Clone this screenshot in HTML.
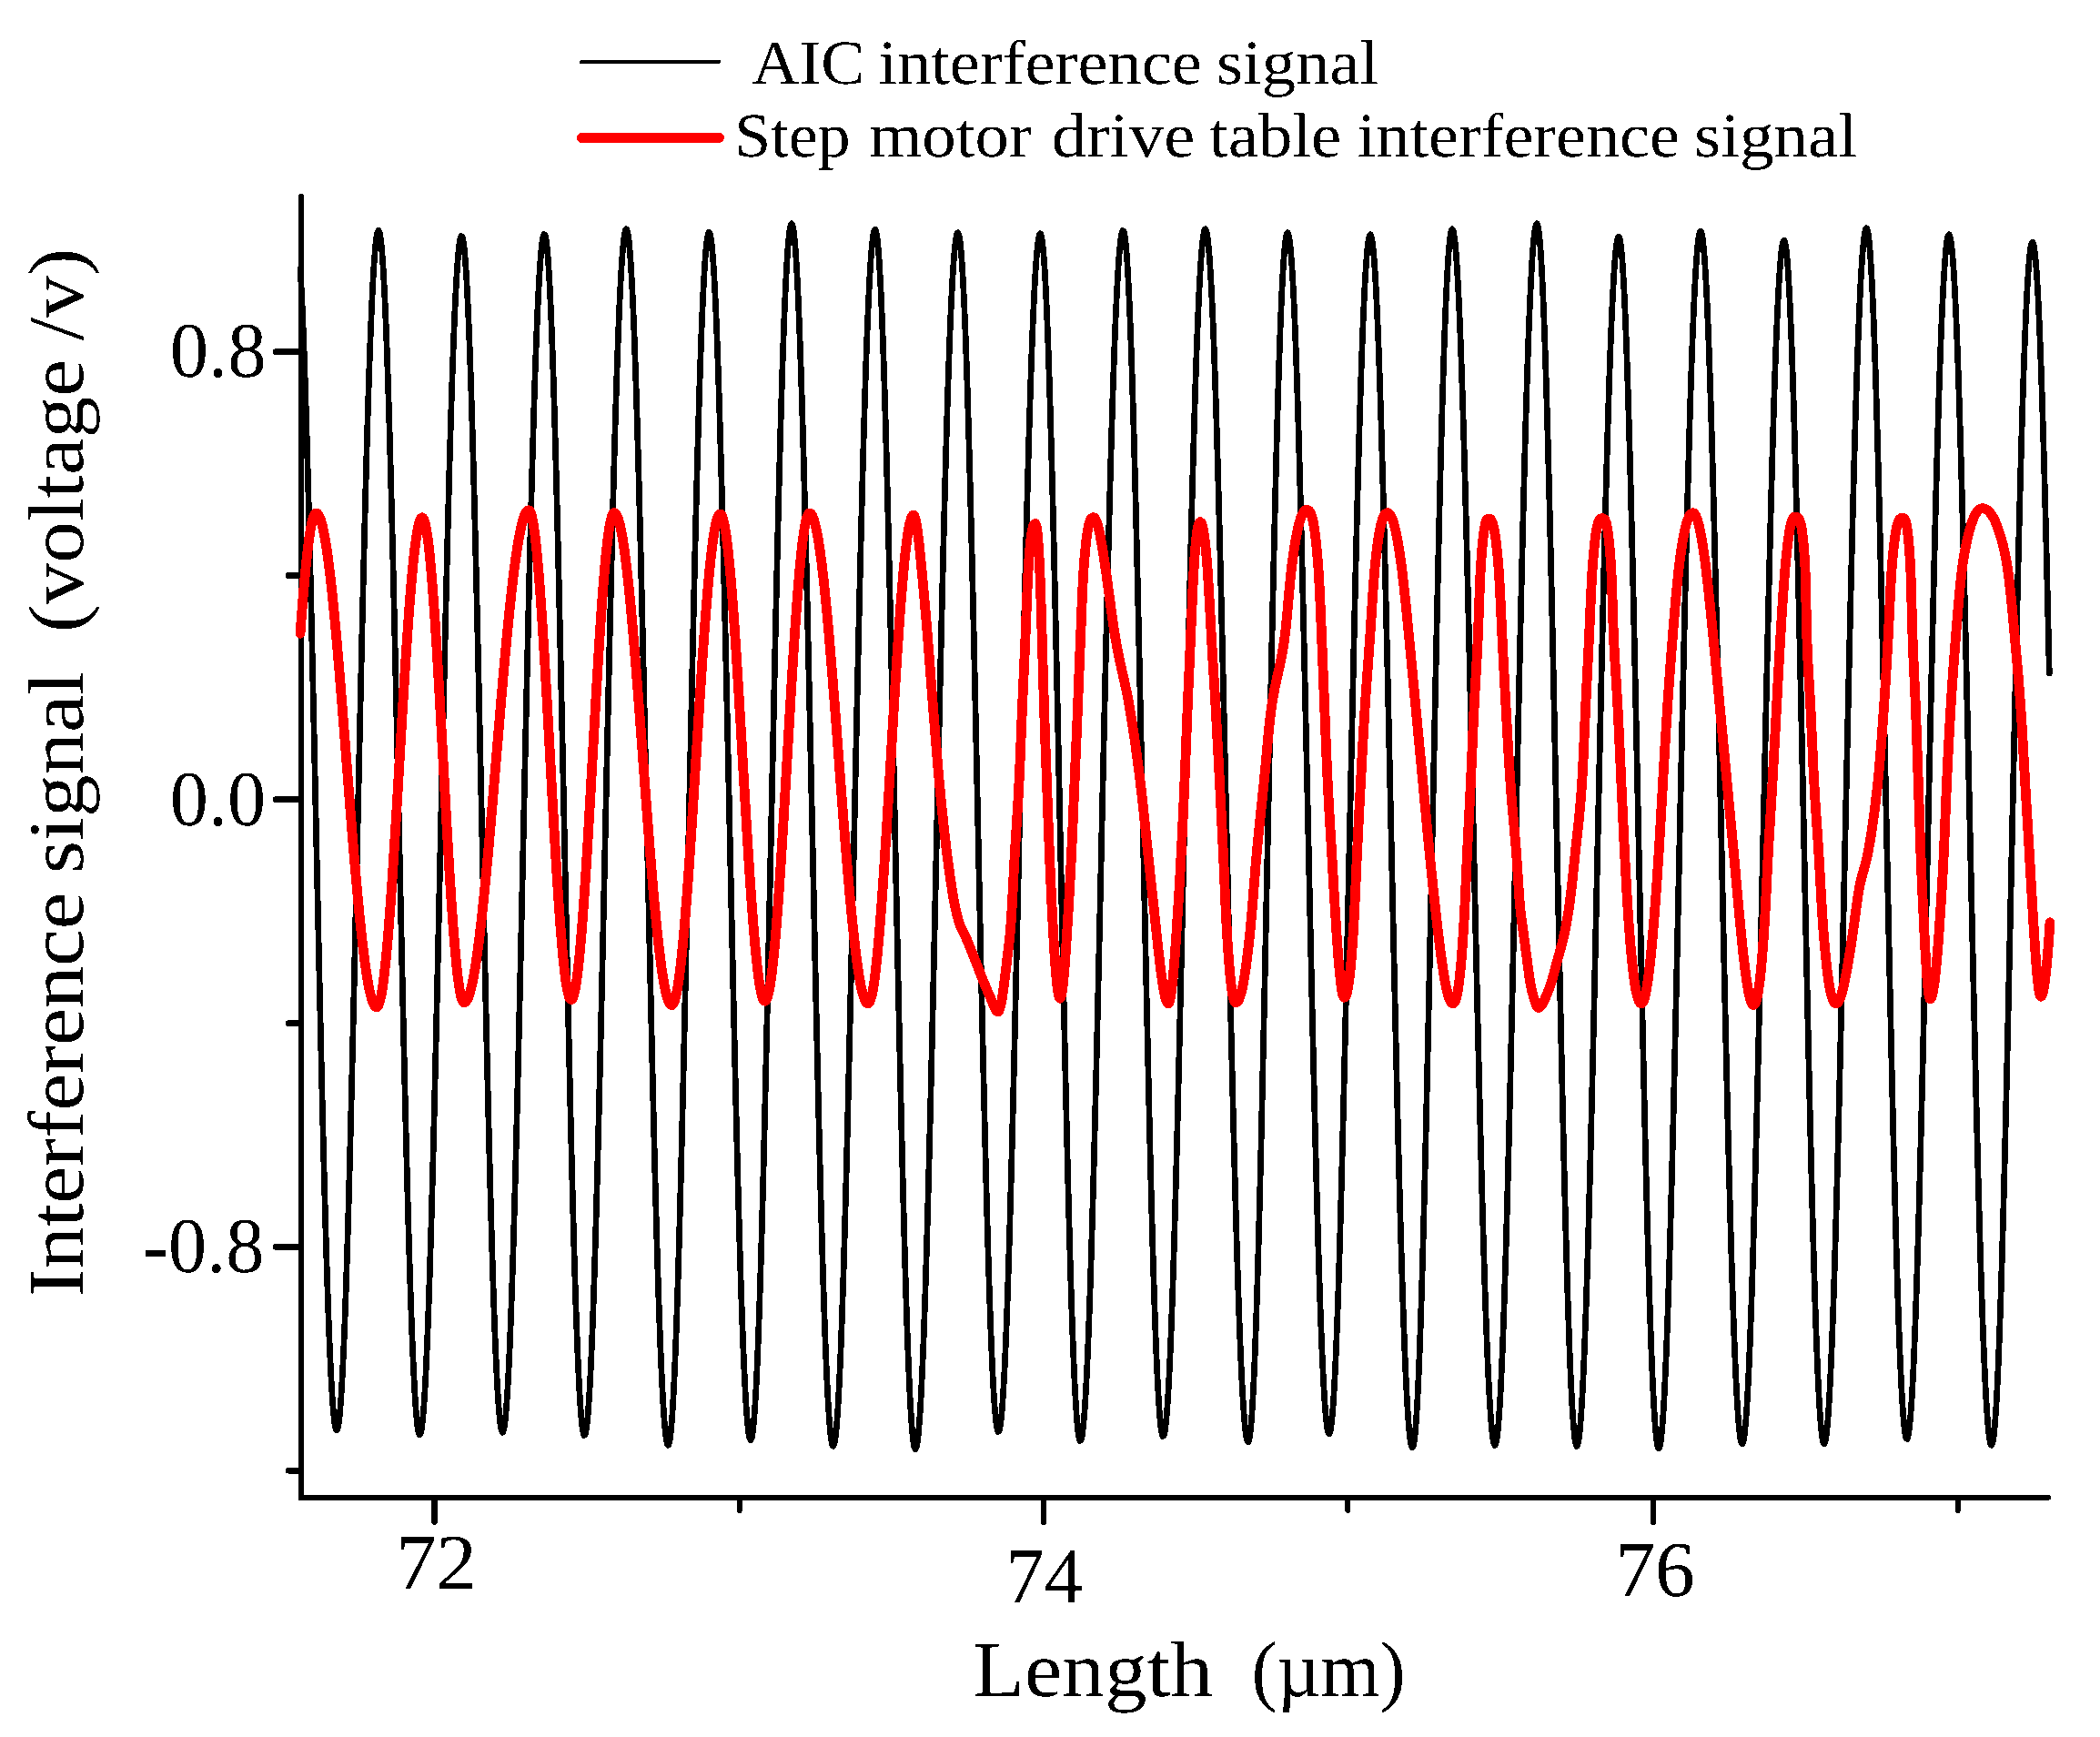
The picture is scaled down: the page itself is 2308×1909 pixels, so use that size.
<!DOCTYPE html>
<html lang="en">
<head>
<meta charset="utf-8">
<title>Interference signal vs length</title>
<style>html,body{margin:0;padding:0;background:#fff}svg{display:block}</style>
</head>
<body>
<svg width="2308" height="1909" viewBox="0 0 2308 1909" shape-rendering="crispEdges" text-rendering="geometricPrecision">
<rect width="2308" height="1909" fill="#fff"/>
<g stroke="#000" stroke-width="6" stroke-linecap="round" fill="none">
<path d="M331.2 216 V1645.8 H2251"/>
<path d="M303 386.7 H330.2" stroke-width="6.6"/>
<path d="M317 632.5 H330.2" stroke-width="6.6"/>
<path d="M303 878.7 H330.2" stroke-width="6.6"/>
<path d="M317 1124.6 H330.2" stroke-width="6.6"/>
<path d="M303 1370.4 H330.2" stroke-width="6.6"/>
<path d="M317 1616.2 H330.2" stroke-width="6.6"/>
<path d="M477.6 1646.8 V1672.5" stroke-width="6.8"/>
<path d="M812.7 1646.8 V1660" stroke-width="6"/>
<path d="M1147 1646.8 V1672.5" stroke-width="6.8"/>
<path d="M1481.4 1646.8 V1660" stroke-width="6"/>
<path d="M1817 1646.8 V1672.5" stroke-width="6.8"/>
<path d="M2151.7 1646.8 V1660" stroke-width="6"/>
</g>
<path d="M330.0 295.5L331.0 312.7L332.0 332.9L333.0 355.8L334.0 381.5L335.0 409.8L336.0 440.5L337.0 473.6L338.0 508.8L339.0 545.9L340.0 584.9L341.0 625.4L342.0 667.4L343.0 710.6L344.0 754.7L345.0 799.6L346.0 845.1L347.0 890.9L348.0 936.9L349.0 982.7L350.0 1028.2L351.0 1073.1L352.0 1117.2L353.0 1160.4L354.0 1202.4L355.0 1242.9L356.0 1281.9L357.0 1319.0L358.0 1354.2L359.0 1387.3L360.0 1418.0L361.0 1446.3L362.0 1472.0L363.0 1494.9L364.0 1515.1L365.0 1532.3L366.0 1546.5L367.0 1557.6L368.0 1565.5L369.0 1570.3L370.0 1572.0L371.0 1570.4L372.0 1565.8L373.0 1558.2L374.0 1547.5L375.0 1533.9L376.0 1517.4L377.0 1498.0L378.0 1476.0L379.0 1451.3L380.0 1424.1L381.0 1394.5L382.0 1362.7L383.0 1328.7L384.0 1292.9L385.0 1255.2L386.0 1216.0L387.0 1175.3L388.0 1133.4L389.0 1090.5L390.0 1046.8L391.0 1002.4L392.0 957.6L393.0 912.7L394.0 867.7L395.0 822.9L396.0 778.5L397.0 734.8L398.0 691.9L399.0 650.0L400.0 609.3L401.0 570.1L402.0 532.4L403.0 496.6L404.0 462.6L405.0 430.8L406.0 401.2L407.0 374.0L408.0 349.3L409.0 327.3L410.0 307.9L411.0 291.4L412.0 277.8L413.0 267.1L414.0 259.5L415.0 254.9L416.0 253.3L417.0 254.9L418.0 259.7L419.0 267.6L420.0 278.7L421.0 292.7L422.0 309.8L423.0 329.8L424.0 352.6L425.0 378.1L426.0 406.2L427.0 436.8L428.0 469.6L429.0 504.6L430.0 541.5L431.0 580.3L432.0 620.6L433.0 662.4L434.0 705.4L435.0 749.4L436.0 794.2L437.0 839.6L438.0 885.3L439.0 931.2L440.0 977.0L441.0 1022.5L442.0 1067.5L443.0 1111.8L444.0 1155.1L445.0 1197.3L446.0 1238.1L447.0 1277.3L448.0 1314.8L449.0 1350.4L450.0 1383.9L451.0 1415.2L452.0 1444.0L453.0 1470.3L454.0 1493.9L455.0 1514.8L456.0 1532.7L457.0 1547.7L458.0 1559.7L459.0 1568.5L460.0 1574.3L461.0 1576.8L462.0 1576.2L463.0 1572.5L464.0 1565.8L465.0 1556.0L466.0 1543.3L467.0 1527.7L468.0 1509.2L469.0 1487.9L470.0 1464.0L471.0 1437.6L472.0 1408.7L473.0 1377.6L474.0 1344.3L475.0 1309.0L476.0 1271.9L477.0 1233.2L478.0 1192.9L479.0 1151.4L480.0 1108.9L481.0 1065.4L482.0 1021.2L483.0 976.6L484.0 931.6L485.0 886.7L486.0 841.8L487.0 797.4L488.0 753.4L489.0 710.3L490.0 668.1L491.0 627.1L492.0 587.5L493.0 549.3L494.0 512.9L495.0 478.4L496.0 446.0L497.0 415.7L498.0 387.8L499.0 362.4L500.0 339.5L501.0 319.4L502.0 302.0L503.0 287.6L504.0 276.0L505.0 267.5L506.0 261.9L507.0 259.5L508.0 260.1L509.0 264.0L510.0 271.0L511.0 281.2L512.0 294.4L513.0 310.7L514.0 330.0L515.0 352.1L516.0 376.9L517.0 404.4L518.0 434.4L519.0 466.8L520.0 501.3L521.0 537.8L522.0 576.2L523.0 616.3L524.0 657.8L525.0 700.6L526.0 744.5L527.0 789.1L528.0 834.4L529.0 880.1L530.0 926.0L531.0 971.9L532.0 1017.4L533.0 1062.5L534.0 1106.9L535.0 1150.3L536.0 1192.6L537.0 1233.6L538.0 1273.0L539.0 1310.7L540.0 1346.5L541.0 1380.1L542.0 1411.6L543.0 1440.6L544.0 1467.0L545.0 1490.8L546.0 1511.8L547.0 1529.9L548.0 1544.9L549.0 1557.0L550.0 1565.9L551.0 1571.6L552.0 1574.2L553.0 1573.6L554.0 1569.9L555.0 1563.2L556.0 1553.4L557.0 1540.7L558.0 1525.1L559.0 1506.6L560.0 1485.4L561.0 1461.5L562.0 1435.1L563.0 1406.2L564.0 1375.1L565.0 1341.8L566.0 1306.5L567.0 1269.5L568.0 1230.7L569.0 1190.5L570.0 1149.0L571.0 1106.5L572.0 1063.0L573.0 1018.9L574.0 974.2L575.0 929.3L576.0 884.4L577.0 839.6L578.0 795.1L579.0 751.2L580.0 708.1L581.0 665.9L582.0 624.9L583.0 585.3L584.0 547.2L585.0 510.8L586.0 476.3L587.0 443.9L588.0 413.7L589.0 385.8L590.0 360.3L591.0 337.5L592.0 317.4L593.0 300.0L594.0 285.5L595.0 274.0L596.0 265.5L597.0 259.9L598.0 257.5L599.0 258.2L600.0 262.2L601.0 269.6L602.0 280.3L603.0 294.2L604.0 311.3L605.0 331.5L606.0 354.6L607.0 380.7L608.0 409.4L609.0 440.8L610.0 474.6L611.0 510.7L612.0 548.8L613.0 588.8L614.0 630.5L615.0 673.6L616.0 718.0L617.0 763.4L618.0 809.6L619.0 856.3L620.0 903.4L621.0 950.5L622.0 997.4L623.0 1044.0L624.0 1089.9L625.0 1134.9L626.0 1178.8L627.0 1221.4L628.0 1262.4L629.0 1301.7L630.0 1339.0L631.0 1374.2L632.0 1407.0L633.0 1437.4L634.0 1465.1L635.0 1490.0L636.0 1512.0L637.0 1530.9L638.0 1546.8L639.0 1559.4L640.0 1568.8L641.0 1574.8L642.0 1577.5L643.0 1576.9L644.0 1573.2L645.0 1566.4L646.0 1556.6L647.0 1543.8L648.0 1528.0L649.0 1509.4L650.0 1488.1L651.0 1464.0L652.0 1437.4L653.0 1408.4L654.0 1377.0L655.0 1343.5L656.0 1308.0L657.0 1270.7L658.0 1231.7L659.0 1191.2L660.0 1149.4L661.0 1106.6L662.0 1062.8L663.0 1018.4L664.0 973.4L665.0 928.2L666.0 883.0L667.0 837.8L668.0 793.1L669.0 748.9L670.0 705.5L671.0 663.0L672.0 621.8L673.0 581.8L674.0 543.5L675.0 506.9L676.0 472.1L677.0 439.5L678.0 409.0L679.0 380.9L680.0 355.3L681.0 332.4L682.0 312.1L683.0 294.6L684.0 280.0L685.0 268.4L686.0 259.8L687.0 254.3L688.0 251.8L689.0 252.4L690.0 256.1L691.0 263.0L692.0 272.9L693.0 285.8L694.0 301.7L695.0 320.4L696.0 342.0L697.0 366.2L698.0 393.0L699.0 422.3L700.0 453.9L701.0 487.7L702.0 523.5L703.0 561.1L704.0 600.4L705.0 641.2L706.0 683.3L707.0 726.5L708.0 770.6L709.0 815.4L710.0 860.7L711.0 906.3L712.0 951.9L713.0 997.4L714.0 1042.5L715.0 1087.1L716.0 1130.9L717.0 1173.7L718.0 1215.3L719.0 1255.5L720.0 1294.2L721.0 1331.1L722.0 1366.1L723.0 1399.0L724.0 1429.7L725.0 1458.0L726.0 1483.8L727.0 1507.0L728.0 1527.4L729.0 1545.0L730.0 1559.7L731.0 1571.4L732.0 1580.1L733.0 1585.7L734.0 1588.2L735.0 1587.6L736.0 1583.7L737.0 1576.5L738.0 1566.2L739.0 1552.8L740.0 1536.3L741.0 1516.8L742.0 1494.3L743.0 1469.1L744.0 1441.3L745.0 1410.9L746.0 1378.1L747.0 1343.1L748.0 1306.0L749.0 1267.1L750.0 1226.5L751.0 1184.4L752.0 1141.0L753.0 1096.6L754.0 1051.3L755.0 1005.4L756.0 959.1L757.0 912.5L758.0 866.1L759.0 819.9L760.0 774.2L761.0 729.2L762.0 685.2L763.0 642.3L764.0 600.8L765.0 560.8L766.0 522.6L767.0 486.3L768.0 452.2L769.0 420.4L770.0 391.0L771.0 364.1L772.0 340.0L773.0 318.8L774.0 300.5L775.0 285.2L776.0 273.0L777.0 263.9L778.0 258.1L779.0 255.5L780.0 256.1L781.0 259.9L782.0 266.7L783.0 276.7L784.0 289.7L785.0 305.6L786.0 324.5L787.0 346.2L788.0 370.5L789.0 397.5L790.0 426.9L791.0 458.7L792.0 492.6L793.0 528.5L794.0 566.3L795.0 605.8L796.0 646.7L797.0 688.9L798.0 732.2L799.0 776.4L800.0 821.3L801.0 866.6L802.0 912.2L803.0 957.8L804.0 1003.2L805.0 1048.2L806.0 1092.6L807.0 1136.2L808.0 1178.8L809.0 1220.1L810.0 1260.0L811.0 1298.3L812.0 1334.8L813.0 1369.4L814.0 1401.8L815.0 1431.9L816.0 1459.6L817.0 1484.8L818.0 1507.3L819.0 1527.0L820.0 1543.8L821.0 1557.7L822.0 1568.6L823.0 1576.4L824.0 1581.1L825.0 1582.7L826.0 1581.0L827.0 1576.1L828.0 1568.0L829.0 1556.8L830.0 1542.3L831.0 1524.9L832.0 1504.4L833.0 1481.1L834.0 1455.0L835.0 1426.3L836.0 1395.0L837.0 1361.5L838.0 1325.7L839.0 1288.0L840.0 1248.4L841.0 1207.2L842.0 1164.6L843.0 1120.7L844.0 1075.9L845.0 1030.2L846.0 984.0L847.0 937.5L848.0 890.8L849.0 844.3L850.0 798.1L851.0 752.4L852.0 707.6L853.0 663.7L854.0 621.1L855.0 579.9L856.0 540.3L857.0 502.6L858.0 466.8L859.0 433.3L860.0 402.0L861.0 373.3L862.0 347.2L863.0 323.9L864.0 303.4L865.0 286.0L866.0 271.5L867.0 260.3L868.0 252.2L869.0 247.3L870.0 245.7L871.0 247.2L872.0 252.0L873.0 259.9L874.0 270.9L875.0 284.9L876.0 302.0L877.0 321.9L878.0 344.7L879.0 370.2L880.0 398.2L881.0 428.8L882.0 461.6L883.0 496.5L884.0 533.5L885.0 572.3L886.0 612.7L887.0 654.5L888.0 697.6L889.0 741.8L890.0 786.7L891.0 832.3L892.0 878.3L893.0 924.4L894.0 970.6L895.0 1016.4L896.0 1061.9L897.0 1106.6L898.0 1150.4L899.0 1193.2L900.0 1234.6L901.0 1274.5L902.0 1312.8L903.0 1349.2L904.0 1383.5L905.0 1415.6L906.0 1445.4L907.0 1472.7L908.0 1497.4L909.0 1519.3L910.0 1538.4L911.0 1554.6L912.0 1567.7L913.0 1577.8L914.0 1584.8L915.0 1588.6L916.0 1589.2L917.0 1586.7L918.0 1581.1L919.0 1572.4L920.0 1560.7L921.0 1546.0L922.0 1528.4L923.0 1508.0L924.0 1484.8L925.0 1459.0L926.0 1430.6L927.0 1399.9L928.0 1367.0L929.0 1332.0L930.0 1295.0L931.0 1256.3L932.0 1216.1L933.0 1174.5L934.0 1131.7L935.0 1087.9L936.0 1043.3L937.0 998.2L938.0 952.7L939.0 907.0L940.0 861.4L941.0 816.1L942.0 771.3L943.0 727.1L944.0 683.9L945.0 641.8L946.0 601.0L947.0 561.6L948.0 524.0L949.0 488.2L950.0 454.4L951.0 422.8L952.0 393.5L953.0 366.6L954.0 342.4L955.0 320.8L956.0 302.1L957.0 286.2L958.0 273.3L959.0 263.4L960.0 256.6L961.0 252.8L962.0 252.2L963.0 254.9L964.0 260.9L965.0 270.3L966.0 283.0L967.0 298.8L968.0 317.8L969.0 339.9L970.0 364.9L971.0 392.6L972.0 423.1L973.0 456.0L974.0 491.3L975.0 528.7L976.0 568.2L977.0 609.4L978.0 652.2L979.0 696.3L980.0 741.6L981.0 787.8L982.0 834.7L983.0 882.0L984.0 929.5L985.0 977.0L986.0 1024.2L987.0 1070.8L988.0 1116.8L989.0 1161.8L990.0 1205.5L991.0 1247.8L992.0 1288.6L993.0 1327.4L994.0 1364.2L995.0 1398.8L996.0 1431.0L997.0 1460.7L998.0 1487.6L999.0 1511.7L1000.0 1532.9L1001.0 1551.0L1002.0 1565.9L1003.0 1577.5L1004.0 1585.9L1005.0 1591.0L1006.0 1592.7L1007.0 1591.1L1008.0 1586.6L1009.0 1579.1L1010.0 1568.6L1011.0 1555.2L1012.0 1538.9L1013.0 1519.9L1014.0 1498.2L1015.0 1473.8L1016.0 1447.0L1017.0 1417.8L1018.0 1386.4L1019.0 1352.9L1020.0 1317.4L1021.0 1280.2L1022.0 1241.4L1023.0 1201.1L1024.0 1159.6L1025.0 1117.0L1026.0 1073.5L1027.0 1029.4L1028.0 984.8L1029.0 939.9L1030.0 894.9L1031.0 850.1L1032.0 805.6L1033.0 761.6L1034.0 718.4L1035.0 676.1L1036.0 635.0L1037.0 595.1L1038.0 556.7L1039.0 520.0L1040.0 485.1L1041.0 452.2L1042.0 421.5L1043.0 393.0L1044.0 366.9L1045.0 343.3L1046.0 322.4L1047.0 304.2L1048.0 288.8L1049.0 276.3L1050.0 266.6L1051.0 260.0L1052.0 256.4L1053.0 255.8L1054.0 258.4L1055.0 264.3L1056.0 273.4L1057.0 285.6L1058.0 301.0L1059.0 319.5L1060.0 340.9L1061.0 365.1L1062.0 392.1L1063.0 421.6L1064.0 453.6L1065.0 487.9L1066.0 524.3L1067.0 562.6L1068.0 602.7L1069.0 644.4L1070.0 687.3L1071.0 731.4L1072.0 776.4L1073.0 822.1L1074.0 868.3L1075.0 914.6L1076.0 961.0L1077.0 1007.2L1078.0 1052.9L1079.0 1097.9L1080.0 1142.0L1081.0 1184.9L1082.0 1226.6L1083.0 1266.7L1084.0 1305.0L1085.0 1341.4L1086.0 1375.7L1087.0 1407.7L1088.0 1437.2L1089.0 1464.2L1090.0 1488.4L1091.0 1509.8L1092.0 1528.3L1093.0 1543.7L1094.0 1555.9L1095.0 1565.0L1096.0 1570.9L1097.0 1573.5L1098.0 1572.9L1099.0 1569.2L1100.0 1562.5L1101.0 1552.7L1102.0 1540.0L1103.0 1524.4L1104.0 1505.9L1105.0 1484.7L1106.0 1460.8L1107.0 1434.4L1108.0 1405.5L1109.0 1374.4L1110.0 1341.1L1111.0 1305.8L1112.0 1268.8L1113.0 1230.0L1114.0 1189.8L1115.0 1148.3L1116.0 1105.8L1117.0 1062.3L1118.0 1018.2L1119.0 973.5L1120.0 928.6L1121.0 883.7L1122.0 838.9L1123.0 794.4L1124.0 750.5L1125.0 707.4L1126.0 665.2L1127.0 624.2L1128.0 584.6L1129.0 546.5L1130.0 510.1L1131.0 475.6L1132.0 443.2L1133.0 413.0L1134.0 385.1L1135.0 359.6L1136.0 336.8L1137.0 316.7L1138.0 299.3L1139.0 284.8L1140.0 273.3L1141.0 264.8L1142.0 259.2L1143.0 256.8L1144.0 257.5L1145.0 261.5L1146.0 268.9L1147.0 279.7L1148.0 293.7L1149.0 310.8L1150.0 331.1L1151.0 354.4L1152.0 380.6L1153.0 409.5L1154.0 441.0L1155.0 475.0L1156.0 511.2L1157.0 549.6L1158.0 589.8L1159.0 631.7L1160.0 675.0L1161.0 719.6L1162.0 765.3L1163.0 811.7L1164.0 858.7L1165.0 905.9L1166.0 953.3L1167.0 1000.5L1168.0 1047.3L1169.0 1093.4L1170.0 1138.7L1171.0 1182.8L1172.0 1225.6L1173.0 1266.8L1174.0 1306.3L1175.0 1343.8L1176.0 1379.2L1177.0 1412.2L1178.0 1442.7L1179.0 1470.5L1180.0 1495.5L1181.0 1517.6L1182.0 1536.7L1183.0 1552.6L1184.0 1565.3L1185.0 1574.7L1186.0 1580.8L1187.0 1583.5L1188.0 1582.9L1189.0 1579.4L1190.0 1572.8L1191.0 1563.4L1192.0 1551.1L1193.0 1536.0L1194.0 1518.1L1195.0 1497.5L1196.0 1474.3L1197.0 1448.7L1198.0 1420.7L1199.0 1390.4L1200.0 1358.0L1201.0 1323.7L1202.0 1287.6L1203.0 1249.8L1204.0 1210.5L1205.0 1170.0L1206.0 1128.3L1207.0 1085.6L1208.0 1042.3L1209.0 998.3L1210.0 954.1L1211.0 909.6L1212.0 865.2L1213.0 821.0L1214.0 777.3L1215.0 734.2L1216.0 691.9L1217.0 650.7L1218.0 610.6L1219.0 571.9L1220.0 534.8L1221.0 499.3L1222.0 465.8L1223.0 434.2L1224.0 404.9L1225.0 377.8L1226.0 353.1L1227.0 331.0L1228.0 311.5L1229.0 294.7L1230.0 280.6L1231.0 269.5L1232.0 261.2L1233.0 255.9L1234.0 253.5L1235.0 254.2L1236.0 258.2L1237.0 265.6L1238.0 276.3L1239.0 290.3L1240.0 307.5L1241.0 327.7L1242.0 351.0L1243.0 377.1L1244.0 406.0L1245.0 437.5L1246.0 471.4L1247.0 507.6L1248.0 545.9L1249.0 586.0L1250.0 627.9L1251.0 671.2L1252.0 715.7L1253.0 761.3L1254.0 807.7L1255.0 854.6L1256.0 901.8L1257.0 949.1L1258.0 996.2L1259.0 1043.0L1260.0 1089.0L1261.0 1134.2L1262.0 1178.3L1263.0 1221.0L1264.0 1262.2L1265.0 1301.7L1266.0 1339.1L1267.0 1374.4L1268.0 1407.4L1269.0 1437.9L1270.0 1465.7L1271.0 1490.7L1272.0 1512.7L1273.0 1531.8L1274.0 1547.7L1275.0 1560.3L1276.0 1569.7L1277.0 1575.8L1278.0 1578.5L1279.0 1577.9L1280.0 1574.3L1281.0 1567.6L1282.0 1557.9L1283.0 1545.3L1284.0 1529.8L1285.0 1511.5L1286.0 1490.5L1287.0 1466.8L1288.0 1440.6L1289.0 1412.0L1290.0 1381.1L1291.0 1348.1L1292.0 1313.1L1293.0 1276.3L1294.0 1237.8L1295.0 1197.8L1296.0 1156.6L1297.0 1114.2L1298.0 1070.9L1299.0 1026.9L1300.0 982.4L1301.0 937.6L1302.0 892.7L1303.0 847.9L1304.0 803.4L1305.0 759.4L1306.0 716.1L1307.0 673.7L1308.0 632.5L1309.0 592.5L1310.0 554.0L1311.0 517.2L1312.0 482.2L1313.0 449.2L1314.0 418.3L1315.0 389.7L1316.0 363.5L1317.0 339.8L1318.0 318.8L1319.0 300.5L1320.0 285.0L1321.0 272.4L1322.0 262.7L1323.0 256.0L1324.0 252.4L1325.0 251.8L1326.0 254.2L1327.0 259.5L1328.0 267.8L1329.0 279.0L1330.0 293.0L1331.0 309.9L1332.0 329.5L1333.0 351.6L1334.0 376.4L1335.0 403.5L1336.0 432.9L1337.0 464.6L1338.0 498.2L1339.0 533.7L1340.0 570.9L1341.0 609.7L1342.0 649.9L1343.0 691.2L1344.0 733.6L1345.0 776.8L1346.0 820.6L1347.0 864.9L1348.0 909.4L1349.0 953.9L1350.0 998.3L1351.0 1042.3L1352.0 1085.8L1353.0 1128.5L1354.0 1170.3L1355.0 1211.0L1356.0 1250.3L1357.0 1288.2L1358.0 1324.4L1359.0 1358.8L1360.0 1391.3L1361.0 1421.6L1362.0 1449.7L1363.0 1475.4L1364.0 1498.6L1365.0 1519.2L1366.0 1537.1L1367.0 1552.3L1368.0 1564.7L1369.0 1574.1L1370.0 1580.7L1371.0 1584.2L1372.0 1584.8L1373.0 1582.0L1374.0 1575.7L1375.0 1566.0L1376.0 1552.9L1377.0 1536.4L1378.0 1516.7L1379.0 1493.9L1380.0 1468.0L1381.0 1439.3L1382.0 1407.8L1383.0 1373.8L1384.0 1337.4L1385.0 1298.8L1386.0 1258.2L1387.0 1215.8L1388.0 1171.9L1389.0 1126.6L1390.0 1080.3L1391.0 1033.1L1392.0 985.3L1393.0 937.2L1394.0 889.0L1395.0 840.9L1396.0 793.3L1397.0 746.3L1398.0 700.3L1399.0 655.4L1400.0 611.9L1401.0 570.0L1402.0 530.0L1403.0 492.0L1404.0 456.3L1405.0 423.0L1406.0 392.4L1407.0 364.5L1408.0 339.5L1409.0 317.6L1410.0 298.9L1411.0 283.4L1412.0 271.3L1413.0 262.6L1414.0 257.4L1415.0 255.7L1416.0 257.2L1417.0 261.9L1418.0 269.6L1419.0 280.5L1420.0 294.3L1421.0 311.0L1422.0 330.6L1423.0 353.0L1424.0 378.0L1425.0 405.6L1426.0 435.6L1427.0 467.8L1428.0 502.2L1429.0 538.5L1430.0 576.6L1431.0 616.3L1432.0 657.4L1433.0 699.8L1434.0 743.1L1435.0 787.3L1436.0 832.1L1437.0 877.2L1438.0 922.6L1439.0 967.9L1440.0 1013.0L1441.0 1057.6L1442.0 1101.6L1443.0 1144.7L1444.0 1186.7L1445.0 1227.4L1446.0 1266.6L1447.0 1304.2L1448.0 1339.9L1449.0 1373.7L1450.0 1405.3L1451.0 1434.5L1452.0 1461.4L1453.0 1485.6L1454.0 1507.2L1455.0 1525.9L1456.0 1541.8L1457.0 1554.7L1458.0 1564.6L1459.0 1571.4L1460.0 1575.2L1461.0 1575.8L1462.0 1573.3L1463.0 1567.6L1464.0 1558.8L1465.0 1546.9L1466.0 1531.9L1467.0 1514.0L1468.0 1493.3L1469.0 1469.7L1470.0 1443.5L1471.0 1414.8L1472.0 1383.7L1473.0 1350.3L1474.0 1314.9L1475.0 1277.5L1476.0 1238.4L1477.0 1197.8L1478.0 1155.8L1479.0 1112.6L1480.0 1068.6L1481.0 1023.7L1482.0 978.4L1483.0 932.8L1484.0 887.1L1485.0 841.5L1486.0 796.3L1487.0 751.7L1488.0 707.9L1489.0 665.1L1490.0 623.5L1491.0 583.3L1492.0 544.7L1493.0 507.9L1494.0 473.0L1495.0 440.3L1496.0 409.9L1497.0 381.9L1498.0 356.5L1499.0 333.8L1500.0 313.9L1501.0 296.9L1502.0 282.8L1503.0 271.9L1504.0 264.0L1505.0 259.2L1506.0 257.7L1507.0 259.2L1508.0 263.8L1509.0 271.4L1510.0 282.1L1511.0 295.6L1512.0 312.1L1513.0 331.4L1514.0 353.5L1515.0 378.1L1516.0 405.3L1517.0 434.9L1518.0 466.7L1519.0 500.6L1520.0 536.5L1521.0 574.1L1522.0 613.4L1523.0 654.1L1524.0 696.1L1525.0 739.0L1526.0 782.9L1527.0 827.4L1528.0 872.3L1529.0 917.5L1530.0 962.7L1531.0 1007.8L1532.0 1052.4L1533.0 1096.5L1534.0 1139.7L1535.0 1182.0L1536.0 1223.1L1537.0 1262.8L1538.0 1301.0L1539.0 1337.4L1540.0 1371.9L1541.0 1404.4L1542.0 1434.7L1543.0 1462.6L1544.0 1488.0L1545.0 1510.8L1546.0 1531.0L1547.0 1548.3L1548.0 1562.8L1549.0 1574.3L1550.0 1582.8L1551.0 1588.4L1552.0 1590.8L1553.0 1590.1L1554.0 1586.0L1555.0 1578.4L1556.0 1567.4L1557.0 1553.1L1558.0 1535.5L1559.0 1514.8L1560.0 1490.9L1561.0 1464.2L1562.0 1434.6L1563.0 1402.4L1564.0 1367.7L1565.0 1330.7L1566.0 1291.6L1567.0 1250.6L1568.0 1207.8L1569.0 1163.6L1570.0 1118.1L1571.0 1071.7L1572.0 1024.4L1573.0 976.6L1574.0 928.5L1575.0 880.4L1576.0 832.5L1577.0 785.1L1578.0 738.3L1579.0 692.5L1580.0 647.9L1581.0 604.7L1582.0 563.1L1583.0 523.4L1584.0 485.8L1585.0 450.3L1586.0 417.4L1587.0 387.0L1588.0 359.4L1589.0 334.7L1590.0 313.0L1591.0 294.4L1592.0 279.1L1593.0 267.2L1594.0 258.6L1595.0 253.4L1596.0 251.7L1597.0 253.1L1598.0 257.6L1599.0 265.0L1600.0 275.4L1601.0 288.6L1602.0 304.7L1603.0 323.5L1604.0 345.0L1605.0 369.0L1606.0 395.5L1607.0 424.3L1608.0 455.4L1609.0 488.5L1610.0 523.5L1611.0 560.4L1612.0 598.8L1613.0 638.7L1614.0 679.8L1615.0 722.0L1616.0 765.1L1617.0 808.8L1618.0 853.1L1619.0 897.7L1620.0 942.3L1621.0 986.9L1622.0 1031.2L1623.0 1074.9L1624.0 1118.0L1625.0 1160.2L1626.0 1201.3L1627.0 1241.2L1628.0 1279.6L1629.0 1316.5L1630.0 1351.5L1631.0 1384.6L1632.0 1415.7L1633.0 1444.5L1634.0 1471.0L1635.0 1495.0L1636.0 1516.5L1637.0 1535.3L1638.0 1551.4L1639.0 1564.6L1640.0 1575.0L1641.0 1582.4L1642.0 1586.9L1643.0 1588.4L1644.0 1586.8L1645.0 1582.1L1646.0 1574.3L1647.0 1563.5L1648.0 1549.6L1649.0 1532.8L1650.0 1513.1L1651.0 1490.6L1652.0 1465.5L1653.0 1437.8L1654.0 1407.6L1655.0 1375.2L1656.0 1340.7L1657.0 1304.2L1658.0 1265.8L1659.0 1225.9L1660.0 1184.5L1661.0 1141.8L1662.0 1098.1L1663.0 1053.6L1664.0 1008.4L1665.0 962.8L1666.0 917.0L1667.0 871.2L1668.0 825.6L1669.0 780.4L1670.0 735.9L1671.0 692.2L1672.0 649.5L1673.0 608.1L1674.0 568.2L1675.0 529.8L1676.0 493.3L1677.0 458.8L1678.0 426.4L1679.0 396.2L1680.0 368.5L1681.0 343.4L1682.0 320.9L1683.0 301.2L1684.0 284.4L1685.0 270.5L1686.0 259.7L1687.0 251.9L1688.0 247.2L1689.0 245.7L1690.0 247.4L1691.0 252.5L1692.0 261.0L1693.0 272.9L1694.0 288.0L1695.0 306.4L1696.0 327.8L1697.0 352.3L1698.0 379.7L1699.0 409.7L1700.0 442.4L1701.0 477.5L1702.0 514.9L1703.0 554.3L1704.0 595.5L1705.0 638.4L1706.0 682.7L1707.0 728.2L1708.0 774.7L1709.0 821.9L1710.0 869.6L1711.0 917.5L1712.0 965.4L1713.0 1013.1L1714.0 1060.3L1715.0 1106.8L1716.0 1152.3L1717.0 1196.6L1718.0 1239.5L1719.0 1280.7L1720.0 1320.1L1721.0 1357.5L1722.0 1392.6L1723.0 1425.3L1724.0 1455.3L1725.0 1482.7L1726.0 1507.2L1727.0 1528.6L1728.0 1547.0L1729.0 1562.1L1730.0 1574.0L1731.0 1582.5L1732.0 1587.6L1733.0 1589.4L1734.0 1587.8L1735.0 1583.2L1736.0 1575.4L1737.0 1564.7L1738.0 1551.0L1739.0 1534.3L1740.0 1514.8L1741.0 1492.6L1742.0 1467.7L1743.0 1440.3L1744.0 1410.5L1745.0 1378.4L1746.0 1344.2L1747.0 1308.0L1748.0 1270.0L1749.0 1230.5L1750.0 1189.5L1751.0 1147.3L1752.0 1104.0L1753.0 1059.9L1754.0 1015.2L1755.0 970.1L1756.0 924.7L1757.0 879.3L1758.0 834.2L1759.0 789.5L1760.0 745.4L1761.0 702.1L1762.0 659.9L1763.0 618.9L1764.0 579.4L1765.0 541.4L1766.0 505.2L1767.0 471.0L1768.0 438.9L1769.0 409.1L1770.0 381.7L1771.0 356.8L1772.0 334.6L1773.0 315.1L1774.0 298.4L1775.0 284.7L1776.0 274.0L1777.0 266.2L1778.0 261.6L1779.0 260.0L1780.0 261.7L1781.0 266.8L1782.0 275.3L1783.0 287.0L1784.0 302.0L1785.0 320.2L1786.0 341.5L1787.0 365.8L1788.0 392.9L1789.0 422.7L1790.0 455.1L1791.0 489.9L1792.0 526.9L1793.0 566.0L1794.0 606.8L1795.0 649.4L1796.0 693.3L1797.0 738.4L1798.0 784.4L1799.0 831.2L1800.0 878.5L1801.0 926.0L1802.0 973.5L1803.0 1020.8L1804.0 1067.6L1805.0 1113.6L1806.0 1158.7L1807.0 1202.6L1808.0 1245.2L1809.0 1286.0L1810.0 1325.1L1811.0 1362.1L1812.0 1396.9L1813.0 1429.3L1814.0 1459.1L1815.0 1486.2L1816.0 1510.5L1817.0 1531.8L1818.0 1550.0L1819.0 1565.0L1820.0 1576.7L1821.0 1585.2L1822.0 1590.3L1823.0 1592.0L1824.0 1590.4L1825.0 1585.7L1826.0 1578.0L1827.0 1567.1L1828.0 1553.3L1829.0 1536.6L1830.0 1517.0L1831.0 1494.6L1832.0 1469.5L1833.0 1441.9L1834.0 1411.9L1835.0 1379.6L1836.0 1345.2L1837.0 1308.8L1838.0 1270.6L1839.0 1230.8L1840.0 1189.5L1841.0 1147.0L1842.0 1103.5L1843.0 1059.1L1844.0 1014.1L1845.0 968.7L1846.0 923.0L1847.0 877.3L1848.0 831.9L1849.0 786.9L1850.0 742.5L1851.0 699.0L1852.0 656.5L1853.0 615.2L1854.0 575.4L1855.0 537.2L1856.0 500.8L1857.0 466.4L1858.0 434.1L1859.0 404.1L1860.0 376.5L1861.0 351.4L1862.0 329.0L1863.0 309.4L1864.0 292.7L1865.0 278.9L1866.0 268.0L1867.0 260.3L1868.0 255.6L1869.0 254.0L1870.0 255.6L1871.0 260.3L1872.0 268.2L1873.0 279.1L1874.0 293.0L1875.0 309.9L1876.0 329.7L1877.0 352.3L1878.0 377.6L1879.0 405.4L1880.0 435.7L1881.0 468.2L1882.0 502.9L1883.0 539.6L1884.0 578.1L1885.0 618.1L1886.0 659.7L1887.0 702.4L1888.0 746.2L1889.0 790.8L1890.0 836.0L1891.0 881.6L1892.0 927.4L1893.0 973.1L1894.0 1018.6L1895.0 1063.7L1896.0 1108.1L1897.0 1151.5L1898.0 1193.9L1899.0 1235.0L1900.0 1274.7L1901.0 1312.6L1902.0 1348.7L1903.0 1382.8L1904.0 1414.6L1905.0 1444.2L1906.0 1471.3L1907.0 1495.7L1908.0 1517.5L1909.0 1536.4L1910.0 1552.5L1911.0 1565.5L1912.0 1575.5L1913.0 1582.4L1914.0 1586.2L1915.0 1586.8L1916.0 1584.3L1917.0 1578.8L1918.0 1570.2L1919.0 1558.6L1920.0 1544.1L1921.0 1526.7L1922.0 1506.4L1923.0 1483.5L1924.0 1458.0L1925.0 1429.9L1926.0 1399.6L1927.0 1367.0L1928.0 1332.3L1929.0 1295.8L1930.0 1257.5L1931.0 1217.7L1932.0 1176.5L1933.0 1134.2L1934.0 1090.9L1935.0 1046.8L1936.0 1002.1L1937.0 957.1L1938.0 911.9L1939.0 866.9L1940.0 822.0L1941.0 777.7L1942.0 734.0L1943.0 691.3L1944.0 649.6L1945.0 609.2L1946.0 570.3L1947.0 533.1L1948.0 497.6L1949.0 464.2L1950.0 432.9L1951.0 404.0L1952.0 377.4L1953.0 353.4L1954.0 332.1L1955.0 313.5L1956.0 297.8L1957.0 285.1L1958.0 275.3L1959.0 268.5L1960.0 264.8L1961.0 264.2L1962.0 266.9L1963.0 272.9L1964.0 282.3L1965.0 295.0L1966.0 310.8L1967.0 329.8L1968.0 351.9L1969.0 376.8L1970.0 404.6L1971.0 435.0L1972.0 467.9L1973.0 503.1L1974.0 540.5L1975.0 579.9L1976.0 621.0L1977.0 663.7L1978.0 707.7L1979.0 752.8L1980.0 798.8L1981.0 845.4L1982.0 892.5L1983.0 939.7L1984.0 986.8L1985.0 1033.6L1986.0 1079.9L1987.0 1125.4L1988.0 1169.9L1989.0 1213.1L1990.0 1254.9L1991.0 1294.9L1992.0 1333.1L1993.0 1369.3L1994.0 1403.1L1995.0 1434.6L1996.0 1463.4L1997.0 1489.5L1998.0 1512.7L1999.0 1532.9L2000.0 1550.1L2001.0 1564.0L2002.0 1574.7L2003.0 1582.1L2004.0 1586.1L2005.0 1586.8L2006.0 1584.4L2007.0 1578.9L2008.0 1570.5L2009.0 1559.1L2010.0 1544.8L2011.0 1527.6L2012.0 1507.7L2013.0 1485.1L2014.0 1459.9L2015.0 1432.2L2016.0 1402.3L2017.0 1370.1L2018.0 1335.9L2019.0 1299.8L2020.0 1261.9L2021.0 1222.5L2022.0 1181.8L2023.0 1139.8L2024.0 1096.8L2025.0 1053.0L2026.0 1008.6L2027.0 963.8L2028.0 918.8L2029.0 873.8L2030.0 829.0L2031.0 784.6L2032.0 740.8L2033.0 697.8L2034.0 655.8L2035.0 615.1L2036.0 575.7L2037.0 537.8L2038.0 501.7L2039.0 467.5L2040.0 435.3L2041.0 405.4L2042.0 377.7L2043.0 352.5L2044.0 329.9L2045.0 310.0L2046.0 292.8L2047.0 278.5L2048.0 267.1L2049.0 258.7L2050.0 253.2L2051.0 250.8L2052.0 251.5L2053.0 255.5L2054.0 262.8L2055.0 273.3L2056.0 287.1L2057.0 304.0L2058.0 324.0L2059.0 347.0L2060.0 372.8L2061.0 401.3L2062.0 432.4L2063.0 466.0L2064.0 501.7L2065.0 539.6L2066.0 579.3L2067.0 620.8L2068.0 663.7L2069.0 707.8L2070.0 753.0L2071.0 799.0L2072.0 845.6L2073.0 892.6L2074.0 939.7L2075.0 986.7L2076.0 1033.3L2077.0 1079.3L2078.0 1124.5L2079.0 1168.6L2080.0 1211.5L2081.0 1253.0L2082.0 1292.7L2083.0 1330.6L2084.0 1366.3L2085.0 1399.9L2086.0 1431.0L2087.0 1459.5L2088.0 1485.3L2089.0 1508.3L2090.0 1528.3L2091.0 1545.2L2092.0 1559.0L2093.0 1569.5L2094.0 1576.8L2095.0 1580.8L2096.0 1581.5L2097.0 1579.1L2098.0 1573.6L2099.0 1565.1L2100.0 1553.7L2101.0 1539.3L2102.0 1522.1L2103.0 1502.1L2104.0 1479.4L2105.0 1454.2L2106.0 1426.5L2107.0 1396.4L2108.0 1364.2L2109.0 1329.9L2110.0 1293.7L2111.0 1255.8L2112.0 1216.4L2113.0 1175.6L2114.0 1133.6L2115.0 1090.6L2116.0 1046.9L2117.0 1002.5L2118.0 957.8L2119.0 912.9L2120.0 868.0L2121.0 823.4L2122.0 779.2L2123.0 735.7L2124.0 693.0L2125.0 651.3L2126.0 610.9L2127.0 571.9L2128.0 534.5L2129.0 498.9L2130.0 465.2L2131.0 433.6L2132.0 404.3L2133.0 377.3L2134.0 352.8L2135.0 330.9L2136.0 311.8L2137.0 295.4L2138.0 281.9L2139.0 271.3L2140.0 263.7L2141.0 259.2L2142.0 257.7L2143.0 259.2L2144.0 263.7L2145.0 271.2L2146.0 281.6L2147.0 294.9L2148.0 311.1L2149.0 330.1L2150.0 351.7L2151.0 375.9L2152.0 402.6L2153.0 431.7L2154.0 462.9L2155.0 496.3L2156.0 531.6L2157.0 568.6L2158.0 607.3L2159.0 647.3L2160.0 688.7L2161.0 731.1L2162.0 774.3L2163.0 818.3L2164.0 862.7L2165.0 907.3L2166.0 952.1L2167.0 996.7L2168.0 1041.0L2169.0 1084.7L2170.0 1127.8L2171.0 1169.8L2172.0 1210.8L2173.0 1250.5L2174.0 1288.7L2175.0 1325.2L2176.0 1359.9L2177.0 1392.7L2178.0 1423.3L2179.0 1451.7L2180.0 1477.6L2181.0 1501.1L2182.0 1521.9L2183.0 1540.0L2184.0 1555.4L2185.0 1567.8L2186.0 1577.4L2187.0 1584.0L2188.0 1587.6L2189.0 1588.2L2190.0 1585.6L2191.0 1579.8L2192.0 1570.9L2193.0 1558.8L2194.0 1543.6L2195.0 1525.4L2196.0 1504.3L2197.0 1480.4L2198.0 1453.8L2199.0 1424.7L2200.0 1393.1L2201.0 1359.2L2202.0 1323.2L2203.0 1285.4L2204.0 1245.7L2205.0 1204.5L2206.0 1162.0L2207.0 1118.3L2208.0 1073.7L2209.0 1028.3L2210.0 982.5L2211.0 936.4L2212.0 890.3L2213.0 844.3L2214.0 798.8L2215.0 753.9L2216.0 709.8L2217.0 666.7L2218.0 625.0L2219.0 584.7L2220.0 546.1L2221.0 509.3L2222.0 474.6L2223.0 442.1L2224.0 411.9L2225.0 384.3L2226.0 359.3L2227.0 337.1L2228.0 317.7L2229.0 301.3L2230.0 288.0L2231.0 277.8L2232.0 270.7L2233.0 266.8L2234.0 266.2L2235.0 268.7L2236.0 274.4L2237.0 283.1L2238.0 295.0L2239.0 309.8L2240.0 327.6L2241.0 348.2L2242.0 371.6L2243.0 397.7L2244.0 426.2L2245.0 457.2L2246.0 490.4L2247.0 525.6L2248.0 562.8L2249.0 601.7L2250.0 642.2L2251.0 684.0L2252.0 727.0L2252.3 740.1" fill="none" stroke="#000" stroke-width="6.7" stroke-linejoin="round" stroke-linecap="round"/>
<path d="M330.0 696.3L331.0 682.8L332.0 669.8L333.0 657.4L334.0 645.6L335.0 634.5L336.0 624.1L337.0 614.4L338.0 605.5L339.0 597.4L340.0 590.1L341.0 583.6L342.0 578.1L343.0 573.4L344.0 569.7L345.0 566.9L346.0 565.0L347.0 564.0L348.0 564.0L349.0 564.6L350.0 565.8L351.0 567.6L352.0 570.0L353.0 573.0L354.0 576.6L355.0 580.8L356.0 585.5L357.0 590.8L358.0 596.6L359.0 603.0L360.0 609.9L361.0 617.3L362.0 625.1L363.0 633.5L364.0 642.3L365.0 651.5L366.0 661.2L367.0 671.2L368.0 681.6L369.0 692.3L370.0 703.4L371.0 714.7L372.0 726.3L373.0 738.2L374.0 750.3L375.0 762.6L376.0 775.0L377.0 787.6L378.0 800.2L379.0 813.0L380.0 825.8L381.0 838.6L382.0 851.4L383.0 864.2L384.0 876.9L385.0 889.5L386.0 902.0L387.0 914.4L388.0 926.6L389.0 938.6L390.0 950.3L391.0 961.8L392.0 973.0L393.0 983.9L394.0 994.5L395.0 1004.7L396.0 1014.5L397.0 1023.9L398.0 1033.0L399.0 1041.5L400.0 1049.7L401.0 1057.3L402.0 1064.4L403.0 1071.1L404.0 1077.2L405.0 1082.7L406.0 1087.7L407.0 1092.2L408.0 1096.1L409.0 1099.4L410.0 1102.1L411.0 1104.2L412.0 1105.7L413.0 1106.6L414.0 1106.9L415.0 1106.4L416.0 1104.8L417.0 1102.1L418.0 1098.4L419.0 1093.7L420.0 1088.0L421.0 1081.3L422.0 1073.6L423.0 1065.0L424.0 1055.5L425.0 1045.2L426.0 1034.0L427.0 1022.0L428.0 1009.3L429.0 996.0L430.0 982.0L431.0 967.5L432.0 952.4L433.0 936.9L434.0 921.0L435.0 904.8L436.0 888.3L437.0 871.6L438.0 854.7L439.0 837.8L440.0 821.0L441.0 804.1L442.0 787.4L443.0 770.9L444.0 754.7L445.0 738.8L446.0 723.3L447.0 708.2L448.0 693.7L449.0 679.7L450.0 666.4L451.0 653.7L452.0 641.7L453.0 630.5L454.0 620.2L455.0 610.7L456.0 602.1L457.0 594.4L458.0 587.7L459.0 582.0L460.0 577.3L461.0 573.6L462.0 570.9L463.0 569.3L464.0 568.8L465.0 569.4L466.0 571.3L467.0 574.4L468.0 578.7L469.0 584.2L470.0 590.9L471.0 598.7L472.0 607.6L473.0 617.6L474.0 628.6L475.0 640.5L476.0 653.4L477.0 667.1L478.0 681.6L479.0 696.9L480.0 712.7L481.0 729.2L482.0 746.1L483.0 763.4L484.0 781.1L485.0 799.1L486.0 817.2L487.0 835.3L488.0 853.5L489.0 871.6L490.0 889.6L491.0 907.3L492.0 924.6L493.0 941.5L494.0 958.0L495.0 973.8L496.0 989.1L497.0 1003.6L498.0 1017.3L499.0 1030.2L500.0 1042.1L501.0 1053.1L502.0 1063.1L503.0 1072.0L504.0 1079.8L505.0 1086.5L506.0 1092.0L507.0 1096.3L508.0 1099.4L509.0 1101.3L510.0 1101.9L511.0 1101.6L512.0 1100.8L513.0 1099.5L514.0 1097.7L515.0 1095.3L516.0 1092.5L517.0 1089.1L518.0 1085.2L519.0 1080.8L520.0 1076.0L521.0 1070.6L522.0 1064.8L523.0 1058.6L524.0 1051.9L525.0 1044.8L526.0 1037.2L527.0 1029.3L528.0 1020.9L529.0 1012.2L530.0 1003.2L531.0 993.8L532.0 984.1L533.0 974.1L534.0 963.8L535.0 953.3L536.0 942.5L537.0 931.5L538.0 920.4L539.0 909.0L540.0 897.5L541.0 885.8L542.0 874.1L543.0 862.3L544.0 850.4L545.0 838.5L546.0 826.5L547.0 814.6L548.0 802.7L549.0 790.9L550.0 779.1L551.0 767.4L552.0 755.9L553.0 744.5L554.0 733.3L555.0 722.3L556.0 711.4L557.0 700.9L558.0 690.5L559.0 680.5L560.0 670.7L561.0 661.3L562.0 652.1L563.0 643.4L564.0 635.0L565.0 626.9L566.0 619.3L567.0 612.1L568.0 605.3L569.0 599.0L570.0 593.1L571.0 587.6L572.0 582.7L573.0 578.2L574.0 574.2L575.0 570.8L576.0 567.8L577.0 565.3L578.0 563.4L579.0 562.0L580.0 561.1L581.0 560.7L582.0 561.1L583.0 562.7L584.0 565.5L585.0 569.5L586.0 574.7L587.0 581.1L588.0 588.6L589.0 597.2L590.0 606.8L591.0 617.5L592.0 629.2L593.0 641.7L594.0 655.2L595.0 669.4L596.0 684.3L597.0 699.9L598.0 716.1L599.0 732.8L600.0 750.0L601.0 767.5L602.0 785.3L603.0 803.3L604.0 821.5L605.0 839.6L606.0 857.8L607.0 875.8L608.0 893.5L609.0 911.0L610.0 928.2L611.0 944.8L612.0 961.0L613.0 976.5L614.0 991.4L615.0 1005.5L616.0 1018.9L617.0 1031.3L618.0 1042.9L619.0 1053.5L620.0 1063.0L621.0 1071.5L622.0 1078.9L623.0 1085.2L624.0 1090.2L625.0 1094.1L626.0 1096.8L627.0 1098.3L628.0 1098.5L629.0 1097.6L630.0 1095.5L631.0 1092.2L632.0 1087.8L633.0 1082.2L634.0 1075.5L635.0 1067.8L636.0 1059.0L637.0 1049.2L638.0 1038.4L639.0 1026.7L640.0 1014.2L641.0 1000.8L642.0 986.7L643.0 972.0L644.0 956.6L645.0 940.6L646.0 924.2L647.0 907.3L648.0 890.1L649.0 872.7L650.0 855.1L651.0 837.3L652.0 819.6L653.0 801.8L654.0 784.3L655.0 766.9L656.0 749.8L657.0 733.1L658.0 716.8L659.0 701.0L660.0 685.7L661.0 671.1L662.0 657.3L663.0 644.2L664.0 631.9L665.0 620.5L666.0 610.0L667.0 600.5L668.0 592.0L669.0 584.6L670.0 578.2L671.0 573.0L672.0 568.9L673.0 566.0L674.0 564.2L675.0 563.6L676.0 563.9L677.0 564.9L678.0 566.6L679.0 568.9L680.0 571.9L681.0 575.5L682.0 579.8L683.0 584.6L684.0 590.1L685.0 596.2L686.0 602.9L687.0 610.2L688.0 618.0L689.0 626.3L690.0 635.2L691.0 644.5L692.0 654.3L693.0 664.5L694.0 675.2L695.0 686.3L696.0 697.7L697.0 709.4L698.0 721.5L699.0 733.8L700.0 746.4L701.0 759.2L702.0 772.2L703.0 785.4L704.0 798.6L705.0 812.0L706.0 825.4L707.0 838.8L708.0 852.2L709.0 865.6L710.0 878.9L711.0 892.0L712.0 905.1L713.0 917.9L714.0 930.6L715.0 943.0L716.0 955.2L717.0 967.0L718.0 978.5L719.0 989.7L720.0 1000.5L721.0 1010.9L722.0 1020.8L723.0 1030.3L724.0 1039.3L725.0 1047.8L726.0 1055.7L727.0 1063.2L728.0 1070.0L729.0 1076.3L730.0 1082.0L731.0 1087.0L732.0 1091.5L733.0 1095.3L734.0 1098.5L735.0 1101.0L736.0 1102.8L737.0 1104.0L738.0 1104.6L739.0 1104.4L740.0 1103.2L741.0 1101.2L742.0 1098.2L743.0 1094.3L744.0 1089.5L745.0 1083.8L746.0 1077.2L747.0 1069.8L748.0 1061.5L749.0 1052.5L750.0 1042.7L751.0 1032.2L752.0 1021.0L753.0 1009.2L754.0 996.7L755.0 983.7L756.0 970.1L757.0 956.1L758.0 941.7L759.0 926.9L760.0 911.7L761.0 896.3L762.0 880.7L763.0 865.0L764.0 849.1L765.0 833.2L766.0 817.2L767.0 801.4L768.0 785.6L769.0 770.1L770.0 754.7L771.0 739.6L772.0 724.9L773.0 710.5L774.0 696.6L775.0 683.2L776.0 670.3L777.0 657.9L778.0 646.2L779.0 635.1L780.0 624.8L781.0 615.1L782.0 606.3L783.0 598.2L784.0 590.9L785.0 584.5L786.0 579.0L787.0 574.4L788.0 570.6L789.0 567.8L790.0 566.0L791.0 565.0L792.0 565.0L793.0 566.1L794.0 568.3L795.0 571.6L796.0 575.9L797.0 581.2L798.0 587.6L799.0 595.0L800.0 603.4L801.0 612.7L802.0 622.8L803.0 633.9L804.0 645.7L805.0 658.4L806.0 671.7L807.0 685.7L808.0 700.2L809.0 715.4L810.0 730.9L811.0 747.0L812.0 763.3L813.0 780.0L814.0 796.8L815.0 813.8L816.0 830.9L817.0 848.0L818.0 865.0L819.0 881.9L820.0 898.6L821.0 915.0L822.0 931.1L823.0 946.8L824.0 962.0L825.0 976.7L826.0 990.8L827.0 1004.2L828.0 1017.0L829.0 1029.0L830.0 1040.2L831.0 1050.6L832.0 1060.0L833.0 1068.6L834.0 1076.2L835.0 1082.8L836.0 1088.3L837.0 1092.9L838.0 1096.3L839.0 1098.7L840.0 1100.0L841.0 1100.3L842.0 1099.4L843.0 1097.4L844.0 1094.3L845.0 1090.2L846.0 1085.0L847.0 1078.7L848.0 1071.5L849.0 1063.2L850.0 1054.0L851.0 1043.9L852.0 1032.9L853.0 1021.1L854.0 1008.6L855.0 995.3L856.0 981.3L857.0 966.7L858.0 951.6L859.0 935.9L860.0 919.9L861.0 903.5L862.0 886.7L863.0 869.8L864.0 852.7L865.0 835.5L866.0 818.3L867.0 801.2L868.0 784.2L869.0 767.4L870.0 750.9L871.0 734.6L872.0 718.8L873.0 703.5L874.0 688.7L875.0 674.5L876.0 660.9L877.0 648.0L878.0 635.9L879.0 624.6L880.0 614.1L881.0 604.6L882.0 595.9L883.0 588.3L884.0 581.6L885.0 576.0L886.0 571.4L887.0 567.9L888.0 565.5L889.0 564.2L890.0 563.9L891.0 564.4L892.0 565.6L893.0 567.4L894.0 569.8L895.0 572.9L896.0 576.6L897.0 580.9L898.0 585.8L899.0 591.2L900.0 597.3L901.0 603.9L902.0 611.1L903.0 618.8L904.0 627.0L905.0 635.8L906.0 644.9L907.0 654.6L908.0 664.6L909.0 675.1L910.0 685.9L911.0 697.1L912.0 708.7L913.0 720.5L914.0 732.6L915.0 744.9L916.0 757.4L917.0 770.1L918.0 783.0L919.0 796.0L920.0 809.1L921.0 822.2L922.0 835.4L923.0 848.5L924.0 861.7L925.0 874.7L926.0 887.7L927.0 900.5L928.0 913.2L929.0 925.6L930.0 937.9L931.0 949.9L932.0 961.6L933.0 973.1L934.0 984.2L935.0 994.9L936.0 1005.2L937.0 1015.2L938.0 1024.7L939.0 1033.7L940.0 1042.3L941.0 1050.3L942.0 1057.9L943.0 1064.9L944.0 1071.4L945.0 1077.3L946.0 1082.6L947.0 1087.3L948.0 1091.4L949.0 1094.9L950.0 1097.8L951.0 1100.0L952.0 1101.6L953.0 1102.6L954.0 1102.9L955.0 1102.4L956.0 1100.8L957.0 1098.1L958.0 1094.5L959.0 1089.8L960.0 1084.1L961.0 1077.4L962.0 1069.7L963.0 1061.1L964.0 1051.6L965.0 1041.3L966.0 1030.2L967.0 1018.2L968.0 1005.6L969.0 992.3L970.0 978.3L971.0 963.8L972.0 948.8L973.0 933.3L974.0 917.4L975.0 901.2L976.0 884.8L977.0 868.1L978.0 851.4L979.0 834.5L980.0 817.6L981.0 800.9L982.0 784.2L983.0 767.8L984.0 751.6L985.0 735.7L986.0 720.2L987.0 705.2L988.0 690.7L989.0 676.7L990.0 663.4L991.0 650.8L992.0 638.8L993.0 627.7L994.0 617.4L995.0 607.9L996.0 599.3L997.0 591.6L998.0 584.9L999.0 579.2L1000.0 574.5L1001.0 570.9L1002.0 568.2L1003.0 566.6L1004.0 566.1L1005.0 567.1L1006.0 570.0L1007.0 574.6L1008.0 580.7L1009.0 588.1L1010.0 596.5L1011.0 605.8L1012.0 615.9L1013.0 626.3L1014.0 637.0L1015.0 647.9L1016.0 658.9L1017.0 670.2L1018.0 681.8L1019.0 693.8L1020.0 706.3L1021.0 719.1L1022.0 732.1L1023.0 745.2L1024.0 758.2L1025.0 771.1L1026.0 783.8L1027.0 796.3L1028.0 808.8L1029.0 821.0L1030.0 833.0L1031.0 844.5L1032.0 855.7L1033.0 866.4L1034.0 876.8L1035.0 886.8L1036.0 896.6L1037.0 906.1L1038.0 915.1L1039.0 923.8L1040.0 932.1L1041.0 940.0L1042.0 947.6L1043.0 955.0L1044.0 962.2L1045.0 969.1L1046.0 975.6L1047.0 981.8L1048.0 987.6L1049.0 992.9L1050.0 997.8L1051.0 1002.1L1052.0 1006.2L1053.0 1009.9L1054.0 1013.3L1055.0 1016.3L1056.0 1019.0L1057.0 1021.3L1058.0 1023.3L1059.0 1025.1L1060.0 1027.0L1061.0 1029.0L1062.0 1031.3L1063.0 1033.6L1064.0 1036.0L1065.0 1038.5L1066.0 1041.0L1067.0 1043.6L1068.0 1046.1L1069.0 1048.6L1070.0 1051.1L1071.0 1053.6L1072.0 1056.1L1073.0 1058.6L1074.0 1061.1L1075.0 1063.7L1076.0 1066.2L1077.0 1068.7L1078.0 1071.3L1079.0 1073.8L1080.0 1076.3L1081.0 1078.8L1082.0 1081.3L1083.0 1083.7L1084.0 1086.2L1085.0 1088.5L1086.0 1090.8L1087.0 1093.0L1088.0 1095.2L1089.0 1097.5L1090.0 1099.8L1091.0 1102.2L1092.0 1104.7L1093.0 1107.1L1094.0 1109.1L1095.0 1110.7L1096.0 1111.7L1097.0 1111.8L1098.0 1110.6L1099.0 1107.9L1100.0 1103.9L1101.0 1098.8L1102.0 1092.7L1103.0 1085.7L1104.0 1078.0L1105.0 1069.8L1106.0 1061.3L1107.0 1052.8L1108.0 1044.9L1109.0 1036.8L1110.0 1027.5L1111.0 1015.6L1112.0 1000.1L1113.0 981.9L1114.0 962.4L1115.0 943.5L1116.0 926.6L1117.0 910.8L1118.0 895.2L1119.0 878.6L1120.0 860.0L1121.0 838.2L1122.0 814.0L1123.0 789.5L1124.0 766.3L1125.0 744.5L1126.0 722.7L1127.0 700.0L1128.0 674.8L1129.0 649.4L1130.0 628.2L1131.0 613.0L1132.0 600.9L1133.0 591.5L1134.0 584.5L1135.0 579.8L1136.0 576.9L1137.0 575.6L1138.0 575.5L1139.0 578.0L1140.0 584.2L1141.0 594.9L1142.0 610.4L1143.0 631.4L1144.0 660.2L1145.0 693.4L1146.0 726.9L1147.0 760.8L1148.0 792.0L1149.0 819.8L1150.0 846.4L1151.0 873.8L1152.0 901.2L1153.0 927.5L1154.0 951.9L1155.0 974.3L1156.0 995.0L1157.0 1014.4L1158.0 1032.5L1159.0 1048.8L1160.0 1063.1L1161.0 1075.0L1162.0 1084.6L1163.0 1091.6L1164.0 1095.9L1165.0 1097.3L1166.0 1095.8L1167.0 1091.4L1168.0 1084.5L1169.0 1075.2L1170.0 1063.8L1171.0 1050.7L1172.0 1036.0L1173.0 1020.0L1174.0 1003.4L1175.0 986.5L1176.0 968.9L1177.0 950.1L1178.0 929.4L1179.0 907.0L1180.0 883.7L1181.0 860.0L1182.0 836.7L1183.0 813.5L1184.0 789.8L1185.0 765.0L1186.0 739.7L1187.0 714.6L1188.0 690.3L1189.0 665.7L1190.0 643.3L1191.0 625.5L1192.0 612.7L1193.0 601.9L1194.0 592.8L1195.0 585.4L1196.0 579.6L1197.0 575.3L1198.0 572.3L1199.0 570.4L1200.0 569.3L1201.0 568.8L1202.0 568.7L1203.0 569.2L1204.0 570.5L1205.0 572.7L1206.0 575.6L1207.0 579.2L1208.0 583.5L1209.0 588.2L1210.0 593.5L1211.0 599.2L1212.0 605.2L1213.0 611.5L1214.0 618.0L1215.0 624.7L1216.0 631.6L1217.0 638.8L1218.0 646.1L1219.0 653.4L1220.0 660.8L1221.0 668.2L1222.0 675.4L1223.0 682.5L1224.0 689.2L1225.0 695.7L1226.0 701.8L1227.0 707.5L1228.0 712.9L1229.0 718.1L1230.0 723.0L1231.0 727.7L1232.0 732.3L1233.0 736.8L1234.0 741.2L1235.0 745.6L1236.0 750.0L1237.0 754.6L1238.0 759.3L1239.0 764.2L1240.0 769.3L1241.0 774.8L1242.0 780.6L1243.0 786.7L1244.0 792.9L1245.0 799.3L1246.0 805.9L1247.0 812.7L1248.0 819.7L1249.0 826.8L1250.0 834.2L1251.0 841.8L1252.0 849.6L1253.0 857.6L1254.0 865.8L1255.0 874.5L1256.0 883.5L1257.0 892.9L1258.0 902.4L1259.0 912.0L1260.0 921.7L1261.0 931.4L1262.0 941.0L1263.0 950.4L1264.0 959.7L1265.0 968.9L1266.0 978.1L1267.0 987.4L1268.0 996.6L1269.0 1005.9L1270.0 1015.3L1271.0 1024.7L1272.0 1034.0L1273.0 1043.0L1274.0 1051.8L1275.0 1060.2L1276.0 1068.1L1277.0 1075.4L1278.0 1082.1L1279.0 1088.1L1280.0 1093.1L1281.0 1097.3L1282.0 1100.3L1283.0 1102.2L1284.0 1102.9L1285.0 1101.7L1286.0 1098.3L1287.0 1092.7L1288.0 1085.3L1289.0 1076.0L1290.0 1065.1L1291.0 1052.9L1292.0 1039.3L1293.0 1024.6L1294.0 1009.1L1295.0 993.4L1296.0 977.2L1297.0 960.2L1298.0 941.9L1299.0 922.4L1300.0 901.9L1301.0 880.4L1302.0 857.7L1303.0 833.1L1304.0 807.6L1305.0 782.4L1306.0 758.7L1307.0 736.0L1308.0 713.6L1309.0 690.7L1310.0 667.3L1311.0 645.2L1312.0 626.4L1313.0 611.4L1314.0 599.2L1315.0 589.5L1316.0 582.2L1317.0 577.3L1318.0 574.6L1319.0 573.7L1320.0 574.4L1321.0 576.5L1322.0 580.2L1323.0 585.5L1324.0 592.5L1325.0 601.2L1326.0 611.7L1327.0 623.9L1328.0 638.7L1329.0 655.8L1330.0 674.3L1331.0 692.9L1332.0 710.3L1333.0 726.9L1334.0 743.1L1335.0 759.4L1336.0 776.4L1337.0 794.4L1338.0 812.7L1339.0 831.2L1340.0 850.3L1341.0 869.8L1342.0 889.3L1343.0 909.1L1344.0 929.5L1345.0 951.0L1346.0 974.1L1347.0 996.6L1348.0 1016.5L1349.0 1033.2L1350.0 1048.0L1351.0 1061.1L1352.0 1072.2L1353.0 1081.5L1354.0 1088.9L1355.0 1094.5L1356.0 1098.4L1357.0 1100.8L1358.0 1101.8L1359.0 1101.7L1360.0 1101.0L1361.0 1099.6L1362.0 1097.6L1363.0 1095.0L1364.0 1091.6L1365.0 1087.7L1366.0 1083.0L1367.0 1077.7L1368.0 1071.8L1369.0 1065.2L1370.0 1058.0L1371.0 1050.1L1372.0 1041.7L1373.0 1032.6L1374.0 1023.0L1375.0 1012.7L1376.0 1001.3L1377.0 989.2L1378.0 976.6L1379.0 963.9L1380.0 951.6L1381.0 940.0L1382.0 929.2L1383.0 918.9L1384.0 909.0L1385.0 899.4L1386.0 889.9L1387.0 880.5L1388.0 870.9L1389.0 861.0L1390.0 850.7L1391.0 840.0L1392.0 829.1L1393.0 818.3L1394.0 807.8L1395.0 797.9L1396.0 788.8L1397.0 780.7L1398.0 773.7L1399.0 767.4L1400.0 761.7L1401.0 756.5L1402.0 751.7L1403.0 747.1L1404.0 742.7L1405.0 738.3L1406.0 733.8L1407.0 729.2L1408.0 724.3L1409.0 719.0L1410.0 713.3L1411.0 706.9L1412.0 700.0L1413.0 691.7L1414.0 681.9L1415.0 671.1L1416.0 659.8L1417.0 648.7L1418.0 638.1L1419.0 628.4L1420.0 620.0L1421.0 612.5L1422.0 605.5L1423.0 599.1L1424.0 593.1L1425.0 587.7L1426.0 582.7L1427.0 578.3L1428.0 574.4L1429.0 571.0L1430.0 568.1L1431.0 565.7L1432.0 563.7L1433.0 562.2L1434.0 561.2L1435.0 560.6L1436.0 560.4L1437.0 560.5L1438.0 560.8L1439.0 561.6L1440.0 562.9L1441.0 565.0L1442.0 568.1L1443.0 572.2L1444.0 577.6L1445.0 584.3L1446.0 592.4L1447.0 601.9L1448.0 612.8L1449.0 625.3L1450.0 642.1L1451.0 662.8L1452.0 685.9L1453.0 709.5L1454.0 734.3L1455.0 759.9L1456.0 784.9L1457.0 809.6L1458.0 833.6L1459.0 855.8L1460.0 875.6L1461.0 893.3L1462.0 909.9L1463.0 926.4L1464.0 943.5L1465.0 960.8L1466.0 977.9L1467.0 994.6L1468.0 1010.7L1469.0 1026.0L1470.0 1040.4L1471.0 1053.4L1472.0 1065.1L1473.0 1075.2L1474.0 1083.6L1475.0 1090.0L1476.0 1094.2L1477.0 1096.2L1478.0 1096.1L1479.0 1094.8L1480.0 1092.3L1481.0 1088.3L1482.0 1082.8L1483.0 1075.7L1484.0 1066.8L1485.0 1056.1L1486.0 1043.6L1487.0 1029.4L1488.0 1013.2L1489.0 993.4L1490.0 971.2L1491.0 948.5L1492.0 927.7L1493.0 907.8L1494.0 888.4L1495.0 869.5L1496.0 850.6L1497.0 832.0L1498.0 813.9L1499.0 796.5L1500.0 780.0L1501.0 764.7L1502.0 750.5L1503.0 737.0L1504.0 723.6L1505.0 709.9L1506.0 695.6L1507.0 680.2L1508.0 664.5L1509.0 649.4L1510.0 635.8L1511.0 624.0L1512.0 614.4L1513.0 605.7L1514.0 597.9L1515.0 591.0L1516.0 585.0L1517.0 579.8L1518.0 575.5L1519.0 571.9L1520.0 569.1L1521.0 567.0L1522.0 565.4L1523.0 564.4L1524.0 563.9L1525.0 563.7L1526.0 563.9L1527.0 564.7L1528.0 565.9L1529.0 567.7L1530.0 569.9L1531.0 572.7L1532.0 575.9L1533.0 579.7L1534.0 584.0L1535.0 588.8L1536.0 594.1L1537.0 599.8L1538.0 606.1L1539.0 612.8L1540.0 620.0L1541.0 627.7L1542.0 636.0L1543.0 644.8L1544.0 654.0L1545.0 663.6L1546.0 673.5L1547.0 683.6L1548.0 693.8L1549.0 704.1L1550.0 714.5L1551.0 724.9L1552.0 735.4L1553.0 745.9L1554.0 756.5L1555.0 767.2L1556.0 777.9L1557.0 788.5L1558.0 799.1L1559.0 809.6L1560.0 820.0L1561.0 830.5L1562.0 840.9L1563.0 851.5L1564.0 862.1L1565.0 872.8L1566.0 883.5L1567.0 894.1L1568.0 904.7L1569.0 915.2L1570.0 925.6L1571.0 935.9L1572.0 946.0L1573.0 955.9L1574.0 965.6L1575.0 975.1L1576.0 984.4L1577.0 993.5L1578.0 1002.5L1579.0 1011.3L1580.0 1020.0L1581.0 1028.5L1582.0 1036.6L1583.0 1044.5L1584.0 1051.9L1585.0 1059.0L1586.0 1065.6L1587.0 1071.8L1588.0 1077.6L1589.0 1082.8L1590.0 1087.5L1591.0 1091.6L1592.0 1095.1L1593.0 1098.0L1594.0 1100.3L1595.0 1101.8L1596.0 1102.7L1597.0 1102.9L1598.0 1102.3L1599.0 1100.9L1600.0 1098.6L1601.0 1095.0L1602.0 1090.2L1603.0 1083.9L1604.0 1076.2L1605.0 1066.8L1606.0 1055.9L1607.0 1043.3L1608.0 1029.2L1609.0 1013.3L1610.0 993.7L1611.0 971.4L1612.0 948.6L1613.0 927.7L1614.0 907.9L1615.0 888.5L1616.0 868.4L1617.0 846.9L1618.0 824.2L1619.0 801.6L1620.0 780.0L1621.0 760.8L1622.0 743.4L1623.0 725.8L1624.0 706.4L1625.0 682.6L1626.0 654.8L1627.0 630.6L1628.0 614.3L1629.0 601.6L1630.0 591.3L1631.0 583.4L1632.0 577.6L1633.0 573.7L1634.0 571.4L1635.0 570.3L1636.0 569.9L1637.0 570.0L1638.0 570.5L1639.0 571.7L1640.0 573.7L1641.0 576.8L1642.0 581.0L1643.0 586.6L1644.0 593.6L1645.0 602.1L1646.0 612.1L1647.0 623.8L1648.0 639.2L1649.0 658.3L1650.0 679.3L1651.0 700.0L1652.0 719.5L1653.0 738.9L1654.0 757.9L1655.0 776.4L1656.0 794.4L1657.0 812.0L1658.0 829.0L1659.0 845.1L1660.0 860.0L1661.0 873.5L1662.0 885.6L1663.0 897.0L1664.0 908.1L1665.0 919.3L1666.0 931.1L1667.0 944.1L1668.0 959.0L1669.0 974.4L1670.0 988.6L1671.0 1000.0L1672.0 1008.6L1673.0 1015.8L1674.0 1022.7L1675.0 1030.0L1676.0 1037.6L1677.0 1045.1L1678.0 1052.6L1679.0 1060.0L1680.0 1067.7L1681.0 1074.9L1682.0 1081.2L1683.0 1086.2L1684.0 1090.4L1685.0 1094.1L1686.0 1097.7L1687.0 1100.9L1688.0 1103.6L1689.0 1105.6L1690.0 1106.9L1691.0 1107.4L1692.0 1107.1L1693.0 1106.4L1694.0 1105.3L1695.0 1103.8L1696.0 1102.0L1697.0 1099.9L1698.0 1097.7L1699.0 1095.4L1700.0 1093.0L1701.0 1090.6L1702.0 1088.1L1703.0 1085.5L1704.0 1082.6L1705.0 1079.5L1706.0 1076.2L1707.0 1072.7L1708.0 1069.0L1709.0 1065.3L1710.0 1061.5L1711.0 1057.8L1712.0 1054.2L1713.0 1050.6L1714.0 1047.1L1715.0 1043.6L1716.0 1039.9L1717.0 1036.1L1718.0 1032.0L1719.0 1027.6L1720.0 1022.8L1721.0 1017.8L1722.0 1012.5L1723.0 1006.7L1724.0 1000.4L1725.0 993.5L1726.0 985.8L1727.0 977.4L1728.0 968.5L1729.0 959.2L1730.0 949.6L1731.0 940.0L1732.0 930.7L1733.0 921.7L1734.0 912.8L1735.0 903.5L1736.0 893.4L1737.0 882.4L1738.0 869.8L1739.0 855.3L1740.0 836.1L1741.0 813.8L1742.0 790.8L1743.0 769.7L1744.0 749.8L1745.0 730.2L1746.0 710.2L1747.0 689.2L1748.0 666.4L1749.0 644.9L1750.0 627.0L1751.0 613.9L1752.0 602.9L1753.0 593.7L1754.0 586.2L1755.0 580.4L1756.0 576.0L1757.0 573.0L1758.0 571.1L1759.0 570.1L1760.0 569.7L1761.0 569.7L1762.0 569.8L1763.0 570.3L1764.0 571.4L1765.0 573.7L1766.0 577.5L1767.0 583.2L1768.0 591.0L1769.0 601.0L1770.0 613.2L1771.0 628.9L1772.0 655.9L1773.0 687.2L1774.0 710.4L1775.0 728.6L1776.0 744.8L1777.0 760.6L1778.0 778.1L1779.0 798.1L1780.0 819.1L1781.0 840.6L1782.0 862.1L1783.0 883.8L1784.0 905.3L1785.0 926.1L1786.0 945.8L1787.0 964.4L1788.0 982.1L1789.0 998.4L1790.0 1013.2L1791.0 1026.4L1792.0 1038.6L1793.0 1049.6L1794.0 1059.6L1795.0 1068.5L1796.0 1076.3L1797.0 1083.0L1798.0 1088.7L1799.0 1093.3L1800.0 1097.0L1801.0 1099.7L1802.0 1101.5L1803.0 1102.6L1804.0 1102.9L1805.0 1102.4L1806.0 1100.9L1807.0 1098.3L1808.0 1094.8L1809.0 1090.3L1810.0 1084.8L1811.0 1078.3L1812.0 1071.0L1813.0 1062.7L1814.0 1053.5L1815.0 1043.5L1816.0 1032.7L1817.0 1021.2L1818.0 1009.0L1819.0 996.1L1820.0 982.7L1821.0 968.6L1822.0 953.9L1823.0 938.4L1824.0 922.1L1825.0 905.1L1826.0 887.8L1827.0 870.3L1828.0 853.1L1829.0 836.0L1830.0 818.9L1831.0 802.2L1832.0 786.2L1833.0 771.0L1834.0 756.5L1835.0 742.7L1836.0 729.4L1837.0 716.5L1838.0 703.8L1839.0 691.2L1840.0 678.9L1841.0 667.0L1842.0 655.6L1843.0 644.9L1844.0 635.0L1845.0 625.8L1846.0 617.6L1847.0 610.0L1848.0 603.1L1849.0 596.7L1850.0 590.9L1851.0 585.7L1852.0 581.1L1853.0 577.1L1854.0 573.7L1855.0 570.8L1856.0 568.4L1857.0 566.5L1858.0 565.2L1859.0 564.3L1860.0 563.8L1861.0 563.7L1862.0 564.3L1863.0 565.5L1864.0 567.3L1865.0 569.8L1866.0 572.8L1867.0 576.5L1868.0 580.8L1869.0 585.6L1870.0 591.0L1871.0 596.9L1872.0 603.4L1873.0 610.3L1874.0 617.7L1875.0 625.5L1876.0 633.9L1877.0 642.6L1878.0 651.7L1879.0 661.1L1880.0 670.8L1881.0 680.7L1882.0 690.8L1883.0 701.0L1884.0 711.3L1885.0 721.7L1886.0 732.2L1887.0 742.8L1888.0 753.3L1889.0 764.0L1890.0 774.7L1891.0 785.3L1892.0 795.9L1893.0 806.4L1894.0 816.9L1895.0 827.3L1896.0 837.8L1897.0 848.3L1898.0 858.9L1899.0 869.5L1900.0 880.0L1901.0 890.4L1902.0 900.7L1903.0 911.1L1904.0 921.7L1905.0 932.4L1906.0 943.3L1907.0 954.4L1908.0 965.5L1909.0 976.7L1910.0 987.8L1911.0 998.8L1912.0 1009.5L1913.0 1020.0L1914.0 1030.1L1915.0 1039.8L1916.0 1049.1L1917.0 1057.8L1918.0 1065.9L1919.0 1073.4L1920.0 1080.3L1921.0 1086.4L1922.0 1091.7L1923.0 1096.2L1924.0 1099.8L1925.0 1102.4L1926.0 1104.1L1927.0 1104.6L1928.0 1104.2L1929.0 1102.8L1930.0 1100.4L1931.0 1096.8L1932.0 1092.0L1933.0 1085.9L1934.0 1078.4L1935.0 1069.5L1936.0 1059.2L1937.0 1047.5L1938.0 1034.4L1939.0 1020.0L1940.0 1003.3L1941.0 983.9L1942.0 963.5L1943.0 943.7L1944.0 925.9L1945.0 909.3L1946.0 893.2L1947.0 877.0L1948.0 860.0L1949.0 842.2L1950.0 824.1L1951.0 805.8L1952.0 787.4L1953.0 768.8L1954.0 750.2L1955.0 731.7L1956.0 713.8L1957.0 696.6L1958.0 680.2L1959.0 664.6L1960.0 650.0L1961.0 636.5L1962.0 624.4L1963.0 613.7L1964.0 604.1L1965.0 595.7L1966.0 588.4L1967.0 582.3L1968.0 577.3L1969.0 573.4L1970.0 570.6L1971.0 568.9L1972.0 568.1L1973.0 568.1L1974.0 568.1L1975.0 568.3L1976.0 568.8L1977.0 569.9L1978.0 572.0L1979.0 575.2L1980.0 580.1L1981.0 587.1L1982.0 596.3L1983.0 608.3L1984.0 624.1L1985.0 665.5L1986.0 705.3L1987.0 727.8L1988.0 745.6L1989.0 761.8L1990.0 780.0L1991.0 801.2L1992.0 823.2L1993.0 844.5L1994.0 863.6L1995.0 880.2L1996.0 895.3L1997.0 909.7L1998.0 924.4L1999.0 940.0L2000.0 957.2L2001.0 975.3L2002.0 992.8L2003.0 1008.9L2004.0 1022.5L2005.0 1034.7L2006.0 1045.8L2007.0 1055.9L2008.0 1065.0L2009.0 1073.0L2010.0 1080.0L2011.0 1085.9L2012.0 1090.8L2013.0 1094.8L2014.0 1097.9L2015.0 1100.2L2016.0 1101.8L2017.0 1102.6L2018.0 1102.9L2019.0 1102.6L2020.0 1101.6L2021.0 1100.1L2022.0 1098.0L2023.0 1095.3L2024.0 1092.2L2025.0 1088.7L2026.0 1084.7L2027.0 1080.3L2028.0 1075.5L2029.0 1070.4L2030.0 1065.0L2031.0 1059.3L2032.0 1053.4L2033.0 1047.2L2034.0 1040.9L2035.0 1034.3L2036.0 1027.6L2037.0 1020.7L2038.0 1013.6L2039.0 1006.2L2040.0 998.8L2041.0 991.5L2042.0 984.7L2043.0 978.4L2044.0 973.0L2045.0 968.4L2046.0 964.3L2047.0 960.6L2048.0 957.2L2049.0 953.8L2050.0 950.2L2051.0 946.3L2052.0 941.9L2053.0 936.9L2054.0 931.6L2055.0 925.9L2056.0 919.9L2057.0 913.6L2058.0 906.9L2059.0 899.8L2060.0 892.3L2061.0 884.4L2062.0 876.1L2063.0 867.3L2064.0 858.1L2065.0 848.0L2066.0 836.8L2067.0 824.7L2068.0 811.8L2069.0 798.3L2070.0 784.3L2071.0 769.8L2072.0 754.4L2073.0 738.2L2074.0 721.2L2075.0 703.6L2076.0 684.4L2077.0 663.2L2078.0 643.1L2079.0 626.5L2080.0 614.3L2081.0 604.1L2082.0 595.4L2083.0 588.1L2084.0 582.2L2085.0 577.6L2086.0 574.2L2087.0 571.9L2088.0 570.5L2089.0 569.7L2090.0 569.4L2091.0 569.4L2092.0 569.5L2093.0 570.1L2094.0 571.6L2095.0 574.8L2096.0 580.0L2097.0 587.9L2098.0 598.6L2099.0 612.2L2100.0 630.8L2101.0 664.8L2102.0 700.0L2103.0 724.8L2104.0 746.1L2105.0 767.7L2106.0 793.3L2107.0 821.6L2108.0 851.1L2109.0 881.2L2110.0 911.8L2111.0 940.0L2112.0 964.2L2113.0 985.6L2114.0 1005.9L2115.0 1026.0L2116.0 1044.8L2117.0 1061.4L2118.0 1075.6L2119.0 1086.6L2120.0 1094.2L2121.0 1097.7L2122.0 1097.5L2123.0 1095.5L2124.0 1092.0L2125.0 1086.8L2126.0 1080.1L2127.0 1072.0L2128.0 1062.4L2129.0 1051.4L2130.0 1039.2L2131.0 1025.7L2132.0 1011.2L2133.0 996.1L2134.0 980.2L2135.0 962.9L2136.0 944.0L2137.0 922.4L2138.0 898.0L2139.0 873.6L2140.0 851.5L2141.0 831.1L2142.0 811.8L2143.0 793.7L2144.0 776.7L2145.0 761.0L2146.0 746.3L2147.0 732.4L2148.0 719.2L2149.0 706.3L2150.0 693.7L2151.0 681.3L2152.0 669.2L2153.0 657.8L2154.0 647.1L2155.0 637.3L2156.0 628.5L2157.0 620.7L2158.0 614.0L2159.0 608.0L2160.0 602.7L2161.0 597.8L2162.0 593.3L2163.0 589.1L2164.0 585.1L2165.0 581.4L2166.0 578.0L2167.0 574.9L2168.0 572.1L2169.0 569.6L2170.0 567.3L2171.0 565.4L2172.0 563.7L2173.0 562.3L2174.0 561.1L2175.0 560.1L2176.0 559.5L2177.0 559.0L2178.0 558.7L2179.0 558.7L2180.0 558.8L2181.0 559.0L2182.0 559.4L2183.0 559.8L2184.0 560.5L2185.0 561.2L2186.0 562.2L2187.0 563.2L2188.0 564.5L2189.0 565.9L2190.0 567.5L2191.0 569.3L2192.0 571.3L2193.0 573.5L2194.0 575.8L2195.0 578.4L2196.0 581.1L2197.0 584.1L2198.0 587.2L2199.0 590.5L2200.0 594.0L2201.0 597.7L2202.0 601.7L2203.0 606.0L2204.0 610.7L2205.0 615.9L2206.0 621.9L2207.0 628.7L2208.0 636.4L2209.0 645.0L2210.0 654.4L2211.0 664.4L2212.0 674.9L2213.0 685.7L2214.0 696.7L2215.0 707.6L2216.0 718.6L2217.0 729.7L2218.0 741.2L2219.0 753.2L2220.0 766.1L2221.0 780.0L2222.0 795.4L2223.0 812.3L2224.0 830.0L2225.0 847.8L2226.0 865.1L2227.0 881.8L2228.0 898.2L2229.0 914.7L2230.0 931.4L2231.0 948.6L2232.0 966.0L2233.0 983.2L2234.0 1000.2L2235.0 1016.8L2236.0 1032.6L2237.0 1047.3L2238.0 1060.6L2239.0 1072.2L2240.0 1081.8L2241.0 1089.1L2242.0 1093.7L2243.0 1095.3L2244.0 1094.4L2245.0 1091.9L2246.0 1087.6L2247.0 1081.6L2248.0 1074.1L2249.0 1064.9L2250.0 1054.2L2251.0 1042.1L2252.0 1028.5L2253.0 1013.7" fill="none" stroke="#f00" stroke-width="10.8" stroke-linejoin="round" stroke-linecap="round"/>
<g stroke-linecap="round" fill="none">
<path d="M639 68 H790" stroke="#000" stroke-width="4"/>
<path d="M639.2 151.5 H790.5" stroke="#f00" stroke-width="10.8"/>
</g>
<defs><filter id="hard" x="-5%" y="-20%" width="110%" height="140%" color-interpolation-filters="sRGB"><feComponentTransfer><feFuncA type="discrete" tableValues="0 1"/></feComponentTransfer></filter></defs>
<g font-family="'Liberation Serif', serif" fill="#000" filter="url(#hard)">
<text font-size="69"><tspan x="826.2" y="91.7" textLength="124.15" lengthAdjust="spacingAndGlyphs">AIC</tspan> <tspan x="965.2" y="91.7" textLength="355.65" lengthAdjust="spacingAndGlyphs">interference</tspan> <tspan x="1337.0" y="91.7" textLength="178.1" lengthAdjust="spacingAndGlyphs">signal</tspan></text>
<text font-size="69"><tspan x="807.2" y="171.7" textLength="127.43" lengthAdjust="spacingAndGlyphs">Step</tspan> <tspan x="955.2" y="171.7" textLength="178.63" lengthAdjust="spacingAndGlyphs">motor</tspan> <tspan x="1155.8" y="171.7" textLength="157.42" lengthAdjust="spacingAndGlyphs">drive</tspan> <tspan x="1329.0" y="171.7" textLength="145.3" lengthAdjust="spacingAndGlyphs">table</tspan> <tspan x="1491.8" y="171.7" textLength="354.05" lengthAdjust="spacingAndGlyphs">interference</tspan> <tspan x="1862.0" y="171.7" textLength="179.09" lengthAdjust="spacingAndGlyphs">signal</tspan></text>
<text font-size="86.5"><tspan x="186.8" y="414.3" textLength="105.82" lengthAdjust="spacingAndGlyphs">0.8</tspan></text>
<text font-size="86.5"><tspan x="186.8" y="906.7" textLength="105.39" lengthAdjust="spacingAndGlyphs">0.0</tspan></text>
<text font-size="86.5"><tspan x="157.0" y="1397.8" textLength="133.51" lengthAdjust="spacingAndGlyphs">-0.8</tspan></text>
<text font-size="86.5"><tspan x="435.2" y="1746" textLength="88.86" lengthAdjust="spacingAndGlyphs">72</tspan></text>
<text font-size="86.5"><tspan x="1105.2" y="1760.7" textLength="85.16" lengthAdjust="spacingAndGlyphs">74</tspan></text>
<text font-size="86.5"><tspan x="1775.4" y="1753.5" textLength="87.46" lengthAdjust="spacingAndGlyphs">76</tspan></text>
<text font-size="86.5"><tspan x="1069.0" y="1864" textLength="264.06" lengthAdjust="spacingAndGlyphs">Length</tspan> <tspan x="1375.4" y="1864" textLength="169.32" lengthAdjust="spacingAndGlyphs">(µm)</tspan></text>
<text transform="translate(91 0) rotate(-90)" font-size="86.5"><tspan x="-1425.00" y="0" textLength="444.69" lengthAdjust="spacingAndGlyphs">Interference</tspan> <tspan x="-960.20" y="0" textLength="222.38" lengthAdjust="spacingAndGlyphs">signal</tspan> <tspan x="-695.00" y="0" textLength="299.97" lengthAdjust="spacingAndGlyphs">(voltage</tspan> <tspan x="-374.20" y="0" textLength="101.38" lengthAdjust="spacingAndGlyphs">/v)</tspan></text>
</g>
</svg>
</body>
</html>
